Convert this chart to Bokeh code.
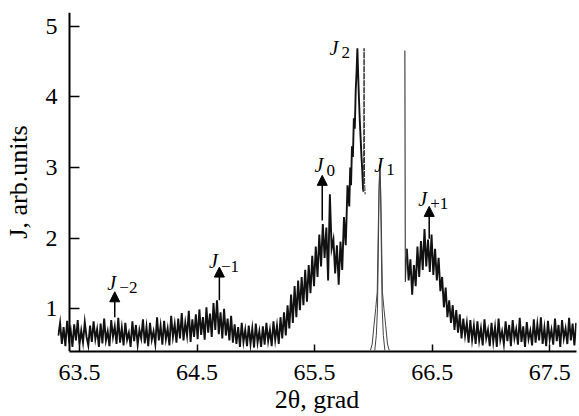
import numpy as np
from bokeh.plotting import figure
from bokeh.models import (FixedTicker, Range1d, Arrow, NormalHead, ColumnDataSource,
                          LinearAxis, CustomJSTickFormatter)
from bokeh.core.properties import value
from bokeh.embed import file_html
from bokeh.resources import INLINE

# ---------------- data ----------------
STEP = 0.015

# left part of the scan: background, J-2, J-1, rise, J0 (uniform grid from LEFT_START)
LEFT_START = 63.32
left_y = [
    0.62, 0.80, 0.50, 0.74, 0.47, 0.83, 0.58, 0.70, 0.46, 0.78,
    0.55, 0.84, 0.49, 0.69, 0.52, 0.81, 0.60, 0.48, 0.76, 0.53,
    0.82, 0.57, 0.71, 0.46, 0.79, 0.51, 0.86, 0.55, 0.68, 0.47,
    0.84, 0.60, 0.75, 0.50, 0.87, 0.52, 0.73, 0.48, 0.80, 0.56,
    0.66, 0.46, 0.82, 0.54, 0.77, 0.49, 0.70, 0.58, 0.85, 0.51,
    0.74, 0.47, 0.80, 0.56, 0.68, 0.50, 0.88, 0.55, 0.76, 0.49,
    0.83, 0.57, 0.72, 0.48, 0.90, 0.60, 0.78, 0.52, 0.86, 0.58,
    0.94, 0.55, 0.80, 0.62, 0.97, 0.53, 0.85, 0.60, 0.92, 0.57,
    0.99, 0.63, 0.88, 0.56, 1.02, 0.66, 0.93, 0.60, 1.08, 0.70,
    1.12, 0.64, 0.95, 0.58, 1.00, 0.62, 0.86, 0.55, 0.90, 0.52,
    0.78, 0.50, 0.74, 0.46, 0.80, 0.53, 0.70, 0.47, 0.76, 0.50,
    0.72, 0.45, 0.79, 0.52, 0.68, 0.46, 0.75, 0.49, 0.80, 0.54,
    0.70, 0.47, 0.82, 0.56, 0.76, 0.50, 0.88, 0.58, 0.95, 0.62,
    1.05, 0.72, 1.20, 0.80, 1.32, 0.88, 1.40, 0.98, 1.45, 1.05,
    1.55, 1.10, 1.62, 1.22, 1.75, 1.32, 1.88, 1.45, 2.05, 1.60,
    2.20, 1.72, 2.15, 1.40, 2.62, 1.85, 1.98, 1.50, 1.90, 1.34,
    1.95, 1.55, 2.30, 1.90, 2.75,
]

# J2 peak (finer sampling)
j2_x = [65.795, 65.803, 65.810, 65.818, 65.826, 65.834, 65.842, 65.850, 65.857, 65.864,
        65.871, 65.878, 65.885, 65.892, 65.899, 65.906, 65.912, 65.916]
j2_y = [2.45, 3.00, 2.75, 3.30, 3.15, 3.70, 3.55, 4.10, 4.35, 4.69,
        4.30, 3.95, 3.65, 3.40, 3.15, 2.95, 2.70, 2.66]

# thin spikes at the edges of the cut-out region
spike_l_x = [65.916, 65.921, 65.925, 65.930]
spike_l_y = [2.66, 4.69, 2.80, 2.62]
spike_r_x = [66.268, 66.272, 66.285]
spike_r_y = [4.66, 1.38, 1.85]

# right part of the scan: J+1, background
RIGHT_START = 66.285
right_y = [
    1.85, 1.40, 1.70, 1.20, 1.62, 1.32, 1.88, 1.45, 1.96, 1.55,
    2.13, 1.60, 1.98, 1.52, 2.05, 1.48, 1.85, 1.40, 1.72, 1.25,
    1.45, 1.02, 1.30, 0.88, 1.12, 0.80, 1.05, 0.70, 0.98, 0.66,
    0.92, 0.58, 0.86, 0.62, 0.80, 0.52, 0.84, 0.56, 0.76, 0.50,
    0.82, 0.55, 0.72, 0.48, 0.85, 0.58, 0.70, 0.47, 0.80, 0.53,
    0.74, 0.46, 0.86, 0.56, 0.68, 0.50, 0.82, 0.54, 0.77, 0.47,
    0.84, 0.58, 0.71, 0.49, 0.87, 0.53, 0.75, 0.46, 0.81, 0.57,
    0.69, 0.48, 0.85, 0.52, 0.78, 0.55, 0.88, 0.50, 0.73, 0.47,
    0.83, 0.56, 0.70, 0.49, 0.86, 0.54, 0.77, 0.46, 0.84, 0.58,
    0.72, 0.50, 0.87, 0.55, 0.79, 0.48, 0.80,
]

# J1 narrow peak (two thin profile curves)
j1_outer_x = [65.975, 65.990, 66.005, 66.020, 66.033, 66.042, 66.048, 66.055,
              66.062, 66.068, 66.077, 66.090, 66.105, 66.120, 66.135]
j1_outer_y = [0.41, 0.50, 0.76, 1.00, 1.24, 2.17, 2.70, 3.04,
              2.70, 2.17, 1.24, 1.00, 0.76, 0.50, 0.41]
j1_inner_x = [66.012, 66.025, 66.035, 66.042, 66.048, 66.055,
              66.062, 66.068, 66.075, 66.085, 66.098]
j1_inner_y = [0.41, 0.62, 1.00, 1.80, 2.60, 3.04,
              2.60, 1.80, 1.00, 0.62, 0.41]

# peak labels J_n
label_sub = ["\u22122", "\u22121", "0", "1", "2", "+1"]
label_x = [63.737, 64.602, 65.500, 66.008, 65.627, 66.381]
label_y = [1.366, 1.676, 3.030, 3.040, 4.700, 2.560]

# arrows
arrow_x = [63.800, 64.690, 65.565, 66.475]
arrow_base = [0.88, 1.12, 2.25, 1.99]
arrow_tip = [1.24, 1.59, 2.89, 2.45]

x_ticks = [63.5, 64.5, 65.5, 66.5, 67.5]
y_ticks = [1, 2, 3, 4, 5]
Y_AXIS_AT = 63.415
X_MIN, X_MAX = 63.313, 67.728
Y_MIN, Y_MAX = 0.394, 5.197

# ---------------- build ----------------
left_x = list(LEFT_START + STEP * np.arange(len(left_y)))
seg_a_x = left_x + j2_x
seg_a_y = left_y + j2_y
seg_b_x = list(RIGHT_START + STEP * np.arange(len(right_y)))
seg_b_y = right_y

SERIF = "Liberation Serif"

p = figure(width=579, height=416, output_backend="svg", toolbar_location=None,
           x_range=Range1d(X_MIN, X_MAX), y_range=Range1d(Y_MIN, Y_MAX),
           min_border_left=55, min_border_right=3, min_border_top=12, min_border_bottom=63)
p.grid.visible = False
p.outline_line_color = None

p.line(seg_a_x, seg_a_y, line_color="#111111", line_width=1.9, line_join="miter")
p.line(seg_b_x, seg_b_y, line_color="#111111", line_width=1.9, line_join="miter")
p.line(spike_l_x, spike_l_y, line_color="#333333", line_width=1.0, line_dash="6 1")
p.line(spike_r_x, spike_r_y, line_color="#333333", line_width=1.1)
p.line(j1_outer_x, j1_outer_y, line_color="#444444", line_width=1.0)
p.line(j1_inner_x, j1_inner_y, line_color="#444444", line_width=1.0)

for xs, y0, y1 in zip(arrow_x, arrow_base, arrow_tip):
    p.add_layout(Arrow(end=NormalHead(size=10, fill_color="black", line_color="black", line_width=1),
                       x_start=xs, y_start=y0, x_end=xs, y_end=y1,
                       line_color="black", line_width=1.5))

src = ColumnDataSource(dict(x=label_x, y=label_y, j=["J"] * len(label_x), s=label_sub))
p.text(x="x", y="y", text="j", source=src, text_font=value(SERIF), text_font_style="italic",
       text_font_size="20px", text_align="left", text_baseline="alphabetic", text_color="black")
p.text(x="x", y="y", text="s", source=src, text_font=value(SERIF), text_font_style="normal",
       text_font_size="17px", text_align="left", text_baseline="alphabetic", text_color="black",
       x_offset=12, y_offset=5)

# x axis
xa = p.xaxis[0]
xa.ticker = FixedTicker(ticks=x_ticks)
xa.bounds = (Y_AXIS_AT, X_MAX)
xa.axis_line_width = 2
xa.axis_line_color = "black"
xa.major_tick_in = 7
xa.major_tick_out = 0
xa.major_tick_line_width = 1.5
xa.major_tick_line_color = "black"
xa.minor_tick_line_color = None
xa.major_label_text_font = SERIF
xa.major_label_text_font_size = "24px"
xa.major_label_text_color = "black"
xa.major_label_standoff = 13
xa.axis_label = "2\u03b8, grad"
xa.axis_label_text_font = SERIF
xa.axis_label_text_font_style = "normal"
xa.axis_label_text_font_size = "26px"
xa.axis_label_text_color = "black"
xa.axis_label_standoff = 2

# y axis line and inward ticks, sitting inside the frame where the scan starts
ya = p.yaxis[0]
ya.fixed_location = Y_AXIS_AT
ya.ticker = FixedTicker(ticks=y_ticks)
ya.formatter = CustomJSTickFormatter(code="return ''")
ya.axis_line_width = 2
ya.axis_line_color = "black"
ya.major_tick_in = 10
ya.major_tick_out = 0
ya.major_tick_line_width = 1.5
ya.major_tick_line_color = "black"
ya.minor_tick_line_color = None

# y tick labels and axis title, in the left panel
yl = LinearAxis(ticker=FixedTicker(ticks=y_ticks))
yl.axis_line_color = None
yl.major_tick_line_color = None
yl.minor_tick_line_color = None
yl.major_tick_out = 0
yl.major_tick_in = 0
yl.major_label_text_font = SERIF
yl.major_label_text_font_size = "24px"
yl.major_label_text_color = "black"
yl.major_label_standoff = 0
yl.axis_label = "J, arb.units"
yl.axis_label_text_font = SERIF
yl.axis_label_text_font_style = "normal"
yl.axis_label_text_font_size = "26px"
yl.axis_label_text_color = "black"
yl.axis_label_standoff = 10
p.add_layout(yl, "left")

open("out.html", "w").write(file_html(p, INLINE))
